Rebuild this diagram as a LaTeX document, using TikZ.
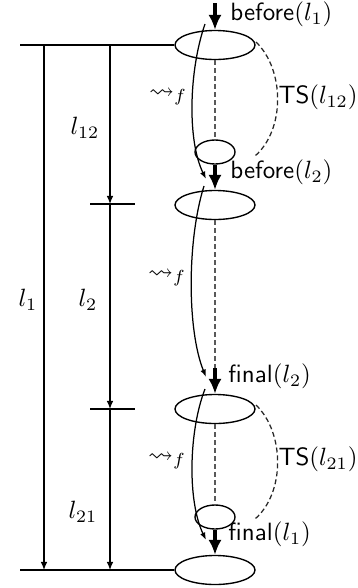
\documentclass[tikz,border=0pt]{standalone}
\usepackage{amsmath,amssymb}
\usetikzlibrary{shapes.geometric,arrows.meta}
\begin{document}
\begin{tikzpicture}[x=0.4pt,y=-0.4pt,
  big/.style={draw,ellipse,line width=0.55pt,minimum width=32pt,minimum height=11.6pt,inner sep=0pt},
  small/.style={draw,ellipse,line width=0.55pt,minimum width=16pt,minimum height=9.6pt,inner sep=0pt},
  thickarrow/.style={line width=1.4pt,-{Latex[length=6pt,width=5.3pt]}},
  thinarrow/.style={line width=0.45pt,-{Latex[length=3.3pt,width=2.7pt]}},
  flow/.style={line width=0.5pt,-{Latex[length=3pt,width=2.2pt]}},
  dashline/.style={dash pattern=on 2pt off 1.2pt,line width=0.5pt,black!65},
  tsline/.style={dash pattern=on 2pt off 1.2pt,line width=0.5pt,black!85},
  lbl/.style={inner sep=0pt,anchor=west},
  mlbl/.style={inner sep=0pt}
]
\useasboundingbox (0,0) rectangle (358,588);

% ellipses
\node[big] (e1) at (215,45) {};
\node[small] (s1) at (215,152) {};
\node[big] (e2) at (215,205) {};
\node[big] (e3) at (215,409) {};
\node[small] (s2) at (215,517) {};
\node[big] (e4) at (215,570) {};

% coordinates
\coordinate (a0) at (215,3);
\coordinate (f2s) at (215,368);
\coordinate (topL) at (20,45);
\coordinate (botL) at (20,570);
\coordinate (c1t) at (44,45);
\coordinate (c1b) at (44,570);
\coordinate (c2t) at (110,45);
\coordinate (c2m1) at (110,204);
\coordinate (c2m2) at (110,409);
\coordinate (c2b) at (110,570);
\coordinate (k1a) at (90,204);
\coordinate (k1b) at (135,204);
\coordinate (k2a) at (90,409);
\coordinate (k2b) at (135,409);
\coordinate (ts1s) at (256,42);
\coordinate (ts1e) at (255,156);
\coordinate (ts2s) at (256,405);
\coordinate (ts2e) at (255,519);
\coordinate (fa0) at (205,24);
\coordinate (fa1) at (206,179);
\coordinate (fb0) at (204,186);
\coordinate (fb1) at (206,377);
\coordinate (fc0) at (205,389);
\coordinate (fc1) at (206,540);

% left part
\draw[line width=0.45pt] (topL) -- (e1.west);
\draw[line width=0.45pt] (botL) -- (e4.west);
\draw[thinarrow] (c1t) -- (c1b);
\draw[thinarrow] (c2t) -- (c2m1);
\draw[thinarrow] (c2m1) -- (c2m2);
\draw[thinarrow] (c2m2) -- (c2b);
\draw[line width=0.45pt] (k1a) -- (k1b);
\draw[line width=0.45pt] (k2a) -- (k2b);

\node[mlbl] (l12) at (85,128) {$l_{12}$};
\node[mlbl] (l2) at (88,300) {$l_2$};
\node[mlbl] (l1) at (28,300) {$l_1$};
\node[mlbl] (l21) at (83,512) {$l_{21}$};

% thick arrows
\draw[thickarrow] (a0) -- (e1.north);
\draw[thickarrow] (s1.south) -- (e2.north);
\draw[thickarrow] (f2s) -- (e3.north);
\draw[thickarrow] (s2.south) -- (e4.north);

% dashed
\draw[dashline] (e1.south) -- (s1.north);
\draw[dashline] (e2.south) -- (f2s);
\draw[dashline] (e3.south) -- (s2.north);
\draw[tsline] (ts1s) .. controls (285,70) and (285,130) .. (ts1e);
\draw[tsline] (ts2s) .. controls (285,433) and (285,493) .. (ts2e);

% flow curves
\draw[flow] (fa0) .. controls (189,70) and (187,140) .. (fa1);
\draw[flow] (fb0) .. controls (187,240) and (187,330) .. (fb1);
\draw[flow] (fc0) .. controls (189,430) and (187,500) .. (fc1);

\node[mlbl] (sq1) at (168,97) {$\leadsto_f$};
\node[mlbl] (sq2) at (167,278) {$\leadsto_f$};
\node[mlbl] (sq3) at (167,461) {$\leadsto_f$};

% labels
\node[lbl] (lb1) at (230,14) {\textsf{before}$(l_1)$};
\node[lbl] (ts12) at (278,97) {\textsf{TS}$(l_{12})$};
\node[lbl] (lb2) at (230,172) {\textsf{before}$(l_2)$};
\node[lbl] (fl2) at (228,376) {\textsf{final}$(l_2)$};
\node[lbl] (ts21) at (278,459) {\textsf{TS}$(l_{21})$};
\node[lbl] (fl1) at (228,534) {\textsf{final}$(l_1)$};
\end{tikzpicture}
\end{document}
